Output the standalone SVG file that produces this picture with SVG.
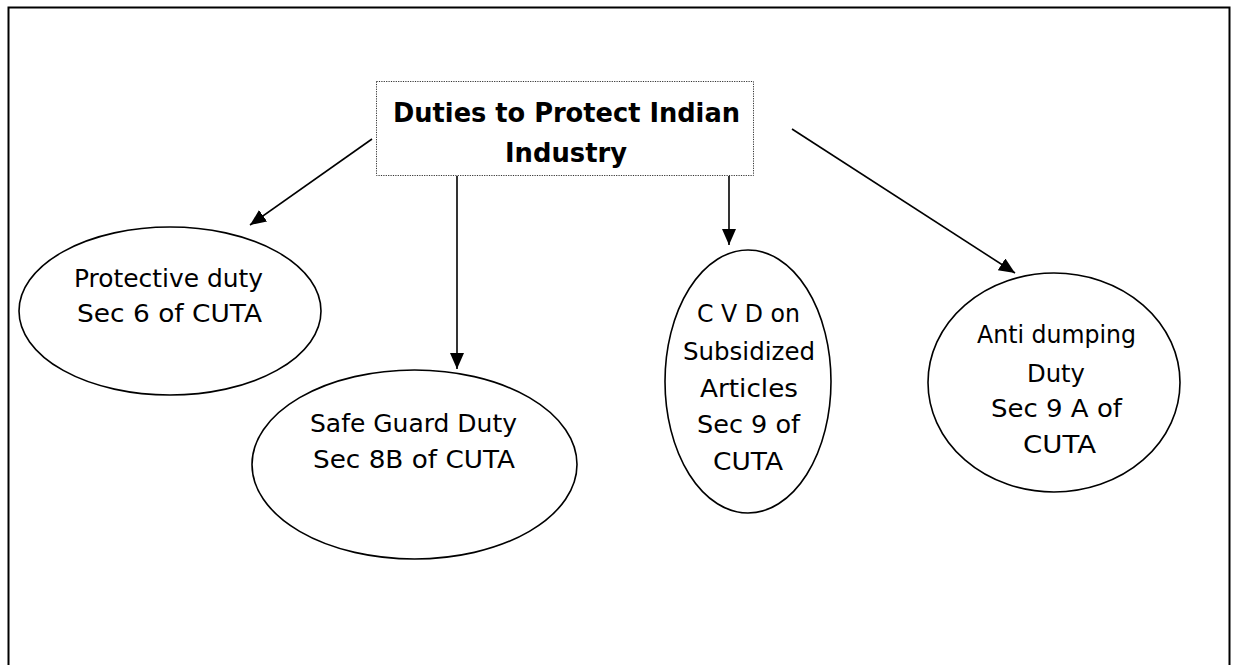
<svg xmlns="http://www.w3.org/2000/svg" width="1233" height="665" viewBox="0 0 1233 665">
  <style>
    .frame { fill: none; stroke: #000; stroke-width: 2; }
    .title-box { fill: #fff; stroke: #333; stroke-width: 1; stroke-dasharray: 1.2 1.2; }
    .node { fill: #fff; stroke: #000; stroke-width: 1.6; }
    .link { fill: none; stroke: #000; stroke-width: 1.6; marker-end: url(#head); }
    text { font-family: "DejaVu Sans", "Noto Sans", sans-serif; fill: #000; text-anchor: middle; }
    .t { font-size: 25px; }
    .tb { font-size: 27px; font-weight: bold; }
  </style>
  <defs>
    <marker id="head" markerUnits="userSpaceOnUse" markerWidth="18" markerHeight="16" refX="16" refY="7" orient="auto">
      <path d="M0,0 L16,7 L0,14 z" fill="#000"/>
    </marker>
  </defs>

  <rect width="1233" height="665" fill="#fff"/>
  <!-- page frame, open at the bottom -->
  <path class="frame" d="M8.5,665 V7.5 H1229.5 V665"/>

  <!-- connectors -->
  <g id="connectors">
    <line class="link" x1="372" y1="139" x2="250" y2="225"/>
    <line class="link" x1="457" y1="176" x2="457" y2="369"/>
    <line class="link" x1="729" y1="176" x2="729" y2="245"/>
    <line class="link" x1="792" y1="129" x2="1015" y2="273"/>
  </g>

  <g id="title">
    <rect class="title-box" x="376.5" y="81.5" width="377" height="94"/>
    <text class="tb" x="566.5" y="122" textLength="347" lengthAdjust="spacingAndGlyphs">Duties to Protect Indian</text>
    <text class="tb" x="566" y="162" textLength="122" lengthAdjust="spacingAndGlyphs">Industry</text>
  </g>

  <g id="protective">
    <ellipse class="node" cx="170" cy="311" rx="151" ry="84"/>
    <text class="t" x="168.5" y="287" textLength="189" lengthAdjust="spacingAndGlyphs">Protective duty</text>
    <text class="t" x="169.5" y="322" textLength="185" lengthAdjust="spacingAndGlyphs">Sec 6 of CUTA</text>
  </g>

  <g id="safeguard">
    <ellipse class="node" cx="414.5" cy="464.5" rx="162.5" ry="94.5"/>
    <text class="t" x="413.5" y="432" textLength="207" lengthAdjust="spacingAndGlyphs">Safe Guard Duty</text>
    <text class="t" x="414" y="468" textLength="202" lengthAdjust="spacingAndGlyphs">Sec 8B of CUTA</text>
  </g>

  <g id="cvd">
    <ellipse class="node" cx="748" cy="381.5" rx="83" ry="131.5"/>
    <text class="t" x="748.5" y="322" textLength="103" lengthAdjust="spacingAndGlyphs">C V D on</text>
    <text class="t" x="749" y="360" textLength="132" lengthAdjust="spacingAndGlyphs">Subsidized</text>
    <text class="t" x="749" y="397" textLength="98" lengthAdjust="spacingAndGlyphs">Articles</text>
    <text class="t" x="748.5" y="433" textLength="103" lengthAdjust="spacingAndGlyphs">Sec 9 of</text>
    <text class="t" x="748" y="470" textLength="70" lengthAdjust="spacingAndGlyphs">CUTA</text>
  </g>

  <g id="antidumping">
    <ellipse class="node" cx="1054" cy="382.5" rx="126" ry="109.5"/>
    <text class="t" x="1056.5" y="343" textLength="159" lengthAdjust="spacingAndGlyphs">Anti dumping</text>
    <text class="t" x="1056" y="382" textLength="58" lengthAdjust="spacingAndGlyphs">Duty</text>
    <text class="t" x="1056.5" y="417" textLength="131" lengthAdjust="spacingAndGlyphs">Sec 9 A of</text>
    <text class="t" x="1059.5" y="453" textLength="73" lengthAdjust="spacingAndGlyphs">CUTA</text>
  </g>
</svg>
